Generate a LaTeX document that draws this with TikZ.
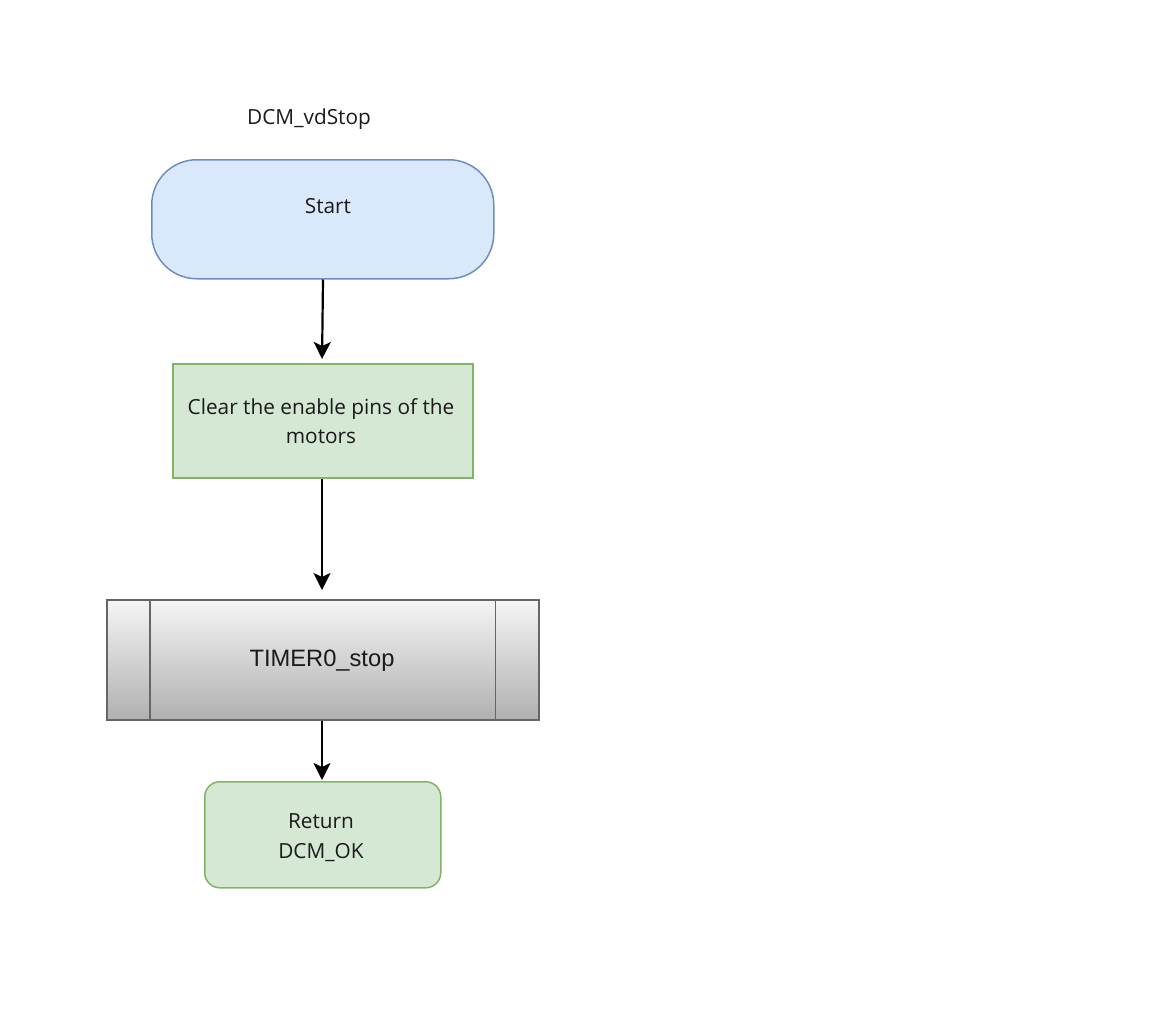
\documentclass[tikz,border=0pt]{standalone}
\usepackage{fontspec}
\setmainfont{Open Sans}
\newfontfamily\arialfont{Liberation Sans}
\usetikzlibrary{arrows.meta}
\definecolor{bluefill}{HTML}{DAE8FC}
\definecolor{blueline}{HTML}{6C8EBF}
\definecolor{greenfill}{HTML}{D5E8D4}
\definecolor{greenline}{HTML}{82B366}
\definecolor{greyline}{HTML}{666666}
\definecolor{greytop}{HTML}{F5F5F5}
\definecolor{greybot}{HTML}{B0B0B0}
\definecolor{ink}{HTML}{1A1A1A}
\tikzset{
  txt/.style={font=\fontsize{20.8}{29.5}\selectfont, text=ink, align=center, inner sep=0pt, anchor=base},
  conn/.style={line width=2.2pt, -{Stealth[length=17pt,width=17pt,inset=4pt]}, shorten >=4pt},
  startbox/.style={draw=blueline, fill=bluefill, line width=1.5pt, rounded corners=45pt},
  procbox/.style={draw=greenline, fill=greenfill, line width=1.5pt},
  retbox/.style={draw=greenline, fill=greenfill, line width=1.5pt, rounded corners=15pt},
  subbox/.style={draw=greyline, line width=1.5pt, top color=greytop, bottom color=greybot},
}
\begin{document}
\begin{tikzpicture}[x=1pt,y=-1pt]
\useasboundingbox (0,0) rectangle (1152,1017);
\fill[white] (0,0) rectangle (1152,1017);
% title
\node[txt] (title) at (309,124) {DCM\_vdStop};
% start
\node[startbox, minimum width=342pt, minimum height=119pt, anchor=north west, inner sep=0pt] (start) at (151,159) {};
\node[txt] (starttxt) at (328,213.5) {Start};
% clear
\node[procbox, minimum width=300pt, minimum height=114pt, anchor=north west, inner sep=0pt] (clear) at (172,363) {};
\node[txt] (cleartxt1) at (321,414) {Clear the enable pins of the};
\node[txt] (cleartxt2) at (321,443.5) {motors};
% timer
\node[subbox, minimum width=432pt, minimum height=120pt, anchor=north west, inner sep=0pt] (timer) at (106,599) {};
\draw[greyline, line width=1.5pt] (timer.north west) ++(44,0) coordinate (tl) -- (tl |- timer.south);
\draw[greyline, line width=1.5pt] (timer.north east) ++(-44,0) coordinate (tr) -- (tr |- timer.south);
\node[inner sep=0pt, anchor=base, text=ink, font=\arialfont\fontsize{23.7}{27}\selectfont] (timertxt) at (322,666) {TIMER0\_stop};
% return
\node[retbox, minimum width=236pt, minimum height=106pt, anchor=north west, inner sep=0pt] (ret) at (204,781) {};
\node[txt] (rettxt1) at (321,828) {Return};
\node[txt] (rettxt2) at (321,858) {DCM\_OK};
% connectors
\draw[conn] (start.south -| 323,0) -- (clear.north -| 322,0);
\draw[conn, shorten >=9pt] (clear.south -| 322,0) -- (timer.north -| 322,0);
\draw[conn, shorten >=1pt] (timer.south -| 322,0) -- (ret.north -| 322,0);
\end{tikzpicture}
\end{document}
